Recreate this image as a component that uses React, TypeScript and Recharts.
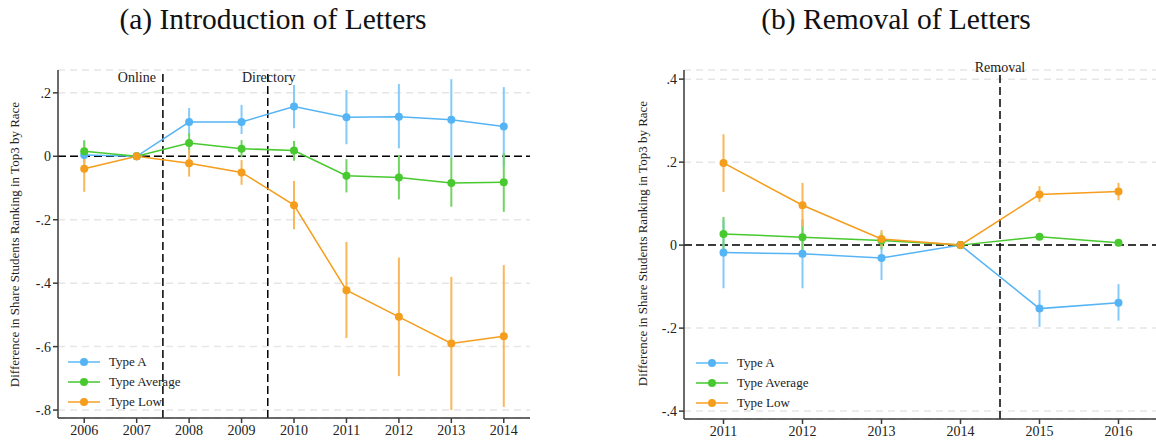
import React from 'react';
import { LineChart, Line, XAxis, YAxis, CartesianGrid, ReferenceLine, ErrorBar, Legend } from 'recharts';

// ---------- Panel (a): Introduction of Letters ----------
const yearsA = [2006, 2007, 2008, 2009, 2010, 2011, 2012, 2013, 2014];
const aTypeA = [0.004, 0, 0.108, 0.108, 0.157, 0.123, 0.125, 0.115, 0.094];
const aTypeALo = [-0.04, 0, 0.064, 0.07, 0.088, 0.038, 0.025, -0.006, -0.033];
const aTypeAHi = [0.05, 0, 0.152, 0.162, 0.225, 0.209, 0.228, 0.243, 0.218];
const aTypeAvg = [0.016, 0, 0.042, 0.024, 0.018, -0.061, -0.067, -0.084, -0.082];
const aTypeAvgLo = [-0.02, 0, 0.01, -0.003, -0.014, -0.114, -0.136, -0.159, -0.175];
const aTypeAvgHi = [0.05, 0, 0.073, 0.051, 0.048, -0.009, 0.004, -0.005, 0.01];
const aTypeLow = [-0.039, 0, -0.022, -0.051, -0.154, -0.422, -0.506, -0.59, -0.567];
const aTypeLowLo = [-0.112, 0, -0.064, -0.09, -0.23, -0.573, -0.693, -0.8, -0.79];
const aTypeLowHi = [0.03, 0, 0.02, -0.012, -0.078, -0.27, -0.319, -0.38, -0.343];
const aYTicks = [-0.8, -0.6, -0.4, -0.2, 0, 0.2];

// ---------- Panel (b): Removal of Letters ----------
const yearsB = [2011, 2012, 2013, 2014, 2015, 2016];
const bTypeA = [-0.018, -0.021, -0.031, 0, -0.153, -0.139];
const bTypeALo = [-0.104, -0.104, -0.084, 0, -0.197, -0.182];
const bTypeAHi = [0.06, 0.06, 0.02, 0, -0.108, -0.094];
const bTypeAvg = [0.027, 0.019, 0.011, 0, 0.02, 0.006];
const bTypeAvgLo = [-0.012, -0.025, -0.01, 0, 0.013, 0.0];
const bTypeAvgHi = [0.068, 0.063, 0.03, 0, 0.027, 0.012];
const bTypeLow = [0.198, 0.096, 0.015, 0, 0.122, 0.129];
const bTypeLowLo = [0.128, 0.045, -0.005, 0, 0.104, 0.108];
const bTypeLowHi = [0.267, 0.15, 0.036, 0, 0.142, 0.15];
const bYTicks = [-0.4, -0.2, 0, 0.2, 0.4];

const seriesNames = ['Type A', 'Type Average', 'Type Low'];
const lineColors = ['#55b4f5', '#47c92f', '#f59d1c'];
const ciColors = ['#84cbfa', '#72d463', '#f8b75a'];

const SERIF = 'Liberation Serif';

type Row = Record<string, number | number[]>;

function buildRows(
  years: number[],
  vals: number[][],
  los: number[][],
  his: number[][]
): Row[] {
  return years.map((yr, i) => {
    const r: Row = { year: yr };
    ['a', 'm', 'l'].forEach((k, s) => {
      r[k] = vals[s][i];
      r[k + 'Err'] = [vals[s][i] - los[s][i], his[s][i] - vals[s][i]];
    });
    return r;
  });
}

const rowsA = buildRows(
  yearsA,
  [aTypeA, aTypeAvg, aTypeLow],
  [aTypeALo, aTypeAvgLo, aTypeLowLo],
  [aTypeAHi, aTypeAvgHi, aTypeLowHi]
);
const rowsB = buildRows(
  yearsB,
  [bTypeA, bTypeAvg, bTypeLow],
  [bTypeALo, bTypeAvgLo, bTypeLowLo],
  [bTypeAHi, bTypeAvgHi, bTypeLowHi]
);

const fmtTick = (v: number) => {
  if (Math.abs(v) < 1e-9) return '0';
  const s = Math.abs(v).toFixed(1).replace(/^0/, '');
  return v < 0 ? '-' + s : s;
};

const tickStyle = { fontFamily: SERIF, fontSize: 14, fill: '#222' };

const LegendContent = () => (
  <div style={{ fontFamily: SERIF, fontSize: 13, color: '#222' }}>
    {seriesNames.map((n, i) => (
      <div key={n} style={{ display: 'flex', alignItems: 'center', height: 20 }}>
        <svg width={32} height={10} style={{ display: 'block' }}>
          <line x1={0} y1={5} x2={32} y2={5} stroke={ciColors[i]} strokeWidth={2} />
          <circle cx={16} cy={5} r={4} fill={lineColors[i]} />
        </svg>
        <span style={{ marginLeft: 9 }}>{n}</span>
      </div>
    ))}
  </div>
);

const vLabel = (text: string, dx: number, dy: number, anchor: 'start' | 'middle' | 'end') =>
  (props: any) => {
    const vb = props.viewBox || {};
    return (
      <text
        x={(vb.x || 0) + dx}
        y={(vb.y || 0) + dy}
        textAnchor={anchor}
        fontFamily={SERIF}
        fontSize={14}
        fill="#222"
      >
        {text}
      </text>
    );
  };

const axisStroke = '#3a3a3a';

function renderSeries() {
  const keys = ['a', 'm', 'l'];
  return keys.map((k, i) => (
    <Line
      key={k}
      type="linear"
      dataKey={k}
      name={seriesNames[i]}
      stroke={lineColors[i]}
      strokeWidth={1.5}
      dot={{ r: 4, fill: lineColors[i], stroke: 'none' }}
      activeDot={false}
      isAnimationActive={false}
    >
      <ErrorBar dataKey={k + 'Err'} width={0} stroke={ciColors[i]} strokeWidth={2} direction="y" isAnimationActive={false} />
    </Line>
  ));
}

export default function App() {
  return (
    <div
      style={{
        position: 'absolute',
        left: 0,
        top: 0,
        width: 1156,
        height: 444,
        overflow: 'hidden',
        background: '#fff',
        fontFamily: SERIF,
      }}
    >
      <svg width={1156} height={444} style={{ position: 'absolute', left: 0, top: 0 }}>
        <text x={273} y={29} textAnchor="middle" fontFamily={SERIF} fontSize={29.5} fill="#111">
          (a) Introduction of Letters
        </text>
        <text x={896} y={29} textAnchor="middle" fontFamily={SERIF} fontSize={29.5} fill="#111">
          (b) Removal of Letters
        </text>
        <text
          x={19}
          y={244.5}
          transform="rotate(-90 19 244.5)"
          textAnchor="middle"
          fontFamily={SERIF}
          fontSize={13}
          fill="#222"
        >
          Difference in Share Students Ranking in Top3 by Race
        </text>
        <text
          x={646.5}
          y={243.5}
          transform="rotate(-90 646.5 243.5)"
          textAnchor="middle"
          fontFamily={SERIF}
          fontSize={13}
          fill="#222"
        >
          Difference in Share Students Ranking in Top3 by Race
        </text>
      </svg>

      <div style={{ position: 'absolute', left: 0, top: 0 }}>
        <LineChart width={560} height={444} data={rowsA} margin={{ top: 70, right: 30, bottom: 0, left: 18 }}>
          <CartesianGrid horizontal vertical={false} stroke="#e6e6e6" strokeWidth={1.5} strokeDasharray="7 5" />
          <XAxis
            dataKey="year"
            type="number"
            domain={[2005.5, 2014.5]}
            ticks={yearsA}
            height={26}
            tickSize={5}
            tickMargin={2}
            stroke={axisStroke}
            strokeWidth={1.5}
            tick={tickStyle}
            allowDataOverflow
          />
          <YAxis
            type="number"
            domain={[-0.825, 0.272]}
            ticks={aYTicks}
            width={40}
            tickSize={5}
            tickMargin={2}
            stroke={axisStroke}
            strokeWidth={1.5}
            tickFormatter={fmtTick}
            tick={tickStyle}
            allowDataOverflow
          />
          <ReferenceLine y={0} stroke="#000" strokeWidth={1.5} strokeDasharray="8 4" />
          <ReferenceLine x={2007.5} stroke="#000" strokeWidth={1.5} strokeDasharray="8 4" label={vLabel('Online', -7, 12, 'end')} />
          <ReferenceLine x={2009.5} stroke="#000" strokeWidth={1.5} strokeDasharray="8 4" label={vLabel('Directory', 1, 12, 'middle')} />
          {renderSeries()}
          <Legend
            layout="vertical"
            align="center"
            verticalAlign="middle"
            content={LegendContent}
            wrapperStyle={{ left: 68, top: 352, width: 'auto' }}
          />
        </LineChart>
      </div>

      <div style={{ position: 'absolute', left: 600, top: 0 }}>
        <LineChart width={558} height={444} data={rowsB} margin={{ top: 70, right: 0, bottom: 0, left: 44 }}>
          <CartesianGrid horizontal vertical={false} stroke="#e6e6e6" strokeWidth={1.5} strokeDasharray="7 5" />
          <XAxis
            dataKey="year"
            type="number"
            domain={[2010.5, 2016.5]}
            ticks={yearsB}
            height={25}
            tickSize={5}
            tickMargin={2}
            stroke={axisStroke}
            strokeWidth={1.5}
            tick={tickStyle}
            allowDataOverflow
          />
          <YAxis
            type="number"
            domain={[-0.419, 0.422]}
            ticks={bYTicks}
            width={40}
            tickSize={5}
            tickMargin={2}
            stroke={axisStroke}
            strokeWidth={1.5}
            tickFormatter={fmtTick}
            tick={tickStyle}
            allowDataOverflow
          />
          <ReferenceLine y={0} stroke="#000" strokeWidth={1.5} strokeDasharray="8 4" />
          <ReferenceLine x={2014.5} stroke="#000" strokeWidth={1.5} strokeDasharray="8 4" label={vLabel('Removal', 0, 2, 'middle')} />
          {renderSeries()}
          <Legend
            layout="vertical"
            align="center"
            verticalAlign="middle"
            content={LegendContent}
            wrapperStyle={{ left: 96, top: 353, width: 'auto' }}
          />
        </LineChart>
      </div>
    </div>
  );
}
